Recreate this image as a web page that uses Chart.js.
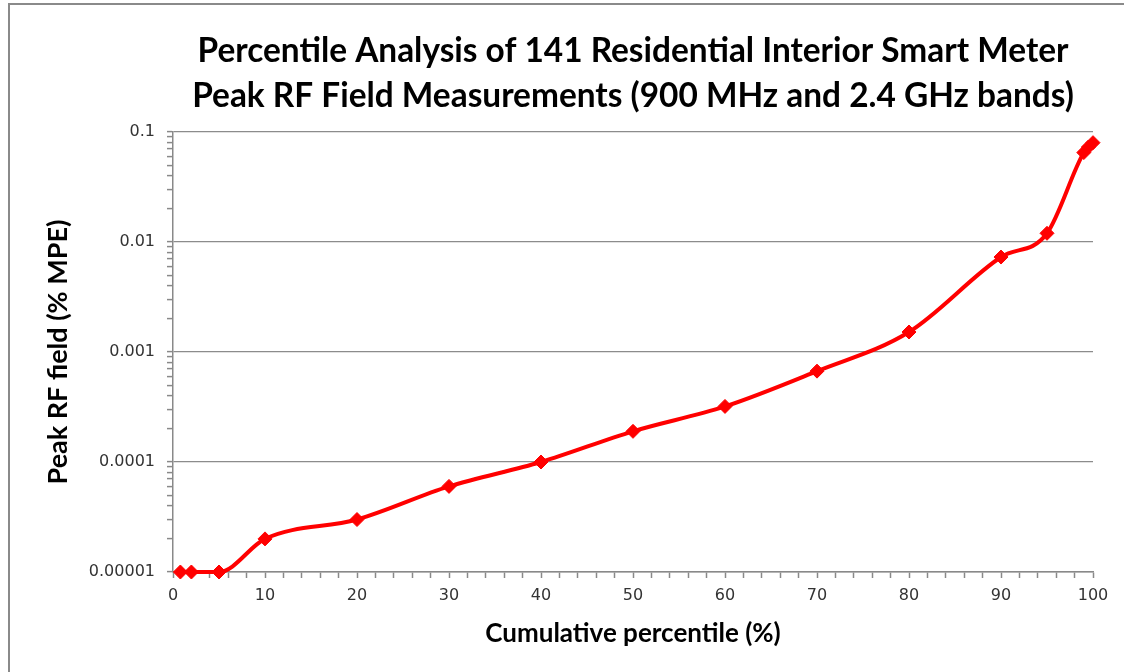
<!DOCTYPE html>
<html>
<head>
<meta charset="utf-8">
<script src="https://cdn.jsdelivr.net/npm/chart.js@4.4.1/dist/chart.umd.min.js"></script>
<style>
  html, body { margin: 0; padding: 0; background: #fff; }
  #wrap { position: relative; width: 1124px; height: 672px; }
</style>
</head>
<body>
<div id="wrap"><canvas id="chart" width="1124" height="672"></canvas></div>
<script>
const titleLines = [
  "Percentile Analysis of 141 Residential Interior Smart Meter",
  "Peak RF Field Measurements (900 MHz and 2.4 GHz bands)"
];
const xTitle = "Cumulative percentile (%)";
const yTitle = "Peak RF field (% MPE)";

// cumulative percentile (%)
const percentiles = [0.8, 2, 5, 10, 20, 30, 40, 50, 60, 70, 80, 90, 95, 99, 99.5, 100];
// peak RF field (% MPE)
const peakField = [0.00001, 0.00001, 0.00001, 0.00002, 0.00003, 0.00006, 0.0001, 0.00019,
  0.00032, 0.00067, 0.00152, 0.0073, 0.012, 0.065, 0.073, 0.08];

const xTicks = [0, 10, 20, 30, 40, 50, 60, 70, 80, 90, 100];
const yTicks = [0.00001, 0.0001, 0.001, 0.01, 0.1];

const axisGrey = "#898989";
const tickFont = { family: "'DejaVu Sans', Verdana, sans-serif", size: 16 };
const boldFam = "Lato, 'Liberation Sans', sans-serif";

function isMajorY(v) {
  return yTicks.some((t) => Math.abs(Math.log10(v) - Math.log10(t)) < 1e-6);
}

// title + outer frame
const decor = {
  id: "decor",
  beforeDraw(chart) {
    const ctx = chart.ctx;
    ctx.save();
    ctx.strokeStyle = "#8a8a8a";
    ctx.lineWidth = 2;
    ctx.beginPath();
    ctx.moveTo(9, 672);
    ctx.lineTo(9, 4);
    ctx.lineTo(1124, 4);
    ctx.stroke();
    ctx.restore();
  },
  afterDraw(chart) {
    const ctx = chart.ctx;
    const area = chart.chartArea;
    const cx = (area.left + area.right) / 2;
    ctx.save();
    let size = 30;
    ctx.font = "bold " + size + "px " + boldFam;
    const w = ctx.measureText(titleLines[0]).width;
    size = size * 872 / w;
    ctx.font = "bold " + size.toFixed(1) + "px " + boldFam;
    ctx.fillStyle = "#000";
    ctx.textAlign = "center";
    ctx.textBaseline = "middle";
    ctx.fillText(titleLines[0], cx, 51);
    ctx.fillText(titleLines[1], cx, 96);
    ctx.restore();
  }
};

const ctx = document.getElementById("chart").getContext("2d");
new Chart(ctx, {
  type: "line",
  data: {
    datasets: [
      {
        data: percentiles.map((p, i) => ({ x: p, y: peakField[i] })),
        borderColor: "#ff0000",
        backgroundColor: "#ff0000",
        borderWidth: 4,
        pointStyle: "rectRot",
        pointRadius: 7,
        pointBorderWidth: 1,
        cubicInterpolationMode: "monotone",
        clip: false,
      },
    ],
  },
  options: {
    responsive: false,
    animation: false,
    layout: { padding: { top: 132, right: 31, bottom: 0, left: 0 } },
    plugins: { legend: { display: false }, tooltip: { enabled: false }, title: { display: false } },
    scales: {
      x: {
        type: "linear",
        min: 0,
        max: 100,
        afterBuildTicks: (scale) => {
          const t = [];
          for (let v = 0; v <= 100; v += 2) t.push({ value: v });
          scale.ticks = t;
        },
        afterFit: (scale) => { scale.height = 100; },
        ticks: {
          autoSkip: false,
          maxRotation: 0,
          padding: 8,
          color: "#333",
          font: tickFont,
          callback: (v) => (xTicks.includes(v) ? String(v) : ""),
        },
        grid: {
          drawOnChartArea: false,
          drawTicks: true,
          tickLength: 6,
          tickColor: axisGrey,
          tickWidth: 1.5,
        },
        border: { display: true, color: axisGrey, width: 1.5 },
        title: {
          display: true,
          text: xTitle,
          color: "#000",
          font: { family: boldFam, size: 26, weight: "bold" },
          padding: { top: 0, bottom: 23 },
        },
      },
      y: {
        type: "logarithmic",
        min: 0.00001,
        max: 0.1,
        afterBuildTicks: (scale) => {
          const t = [];
          for (let e = -5; e <= -1; e++) {
            for (let m = 1; m <= 9; m++) {
              const v = m * Math.pow(10, e);
              if (v > 0.1000001) break;
              t.push({ value: v });
            }
          }
          scale.ticks = t;
        },
        afterFit: (scale) => { scale.width = 173; },
        ticks: {
          autoSkip: false,
          padding: 12,
          color: "#333",
          font: tickFont,
          callback: (v) => {
            if (!isMajorY(v)) return "";
            const d = Math.max(0, -Math.round(Math.log10(v)));
            return Number(v).toFixed(d);
          },
        },
        grid: {
          color: (c) => (c.tick && isMajorY(c.tick.value) ? "#8c8c8c" : "rgba(0,0,0,0)"),
          lineWidth: 1.2,
          tickLength: 6,
          tickColor: axisGrey,
          tickWidth: 1.5,
        },
        border: { display: true, color: axisGrey, width: 1.5 },
        title: {
          display: true,
          text: yTitle,
          color: "#000",
          font: { family: boldFam, size: 27, weight: "bold" },
          padding: { top: 42, bottom: 0 },
        },
      },
    },
  },
  plugins: [decor],
});
</script>
</body>
</html>
